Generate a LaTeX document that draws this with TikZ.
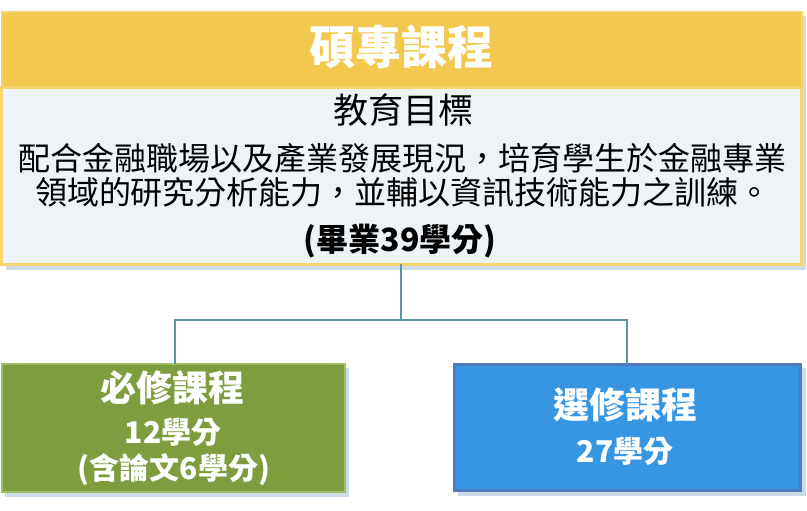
\documentclass[tikz,border=0pt]{standalone}
\usepackage{fontspec}
\newfontfamily\cjk{Noto Sans CJK TC}
\usetikzlibrary{calc}
\definecolor{barfill}{RGB}{242,200,78}
\definecolor{barline}{RGB}{246,212,110}
\definecolor{objfill}{RGB}{238,243,248}
\definecolor{greenfill}{RGB}{127,157,62}
\definecolor{greenline}{RGB}{160,190,100}
\definecolor{bluefill}{RGB}{55,150,226}
\definecolor{blueline}{RGB}{80,122,192}
\definecolor{connline}{RGB}{96,143,168}
\definecolor{shadowc}{RGB}{205,218,232}
\begin{document}
\begin{tikzpicture}[x=1pt,y=-1pt,
  box/.style={rectangle,inner sep=0pt,outer sep=0pt},
  wtext/.style={text=white,font=\cjk\bfseries,inner sep=0pt},
  btext/.style={text=black,font=\cjk,inner sep=0pt},
  conn/.style={draw=connline,line width=2pt}]
\useasboundingbox (0,0) rectangle (807,511);
% shadows
\fill[shadowc] (6,92) rectangle (806,270);
\fill[shadowc] (6,16) rectangle (806,92);
\fill[shadowc] (5,368) rectangle (349,497);
\fill[shadowc] (458,368) rectangle (806,496);
% boxes
\node[box,fill=barfill,draw=barline,line width=2pt,minimum width=800pt,minimum height=76pt] (bar) at (401.5,50) {};
\node[box,fill=objfill,draw=barline,line width=3pt,minimum width=800pt,minimum height=176pt] (obj) at (401.5,176) {};
\node[box,fill=greenfill,draw=greenline,line width=2pt,minimum width=343pt,minimum height=128pt] (req) at (173,428) {};
\node[box,fill=bluefill,draw=blueline,line width=3pt,minimum width=346pt,minimum height=126pt] (ele) at (627,427) {};
% texts
\node[wtext,font=\cjk\bfseries\fontsize{46}{50}\selectfont] (t0) at (401.5,47) {碩專課程};
\node[btext,font=\cjk\fontsize{35}{38}\selectfont] (t1) at (403,110) {教育目標};
\node[btext,font=\cjk\fontsize{32}{36}\selectfont] (t2) at (403,158) {配合金融職場以及產業發展現況，培育學生於金融專業};
\node[btext,font=\cjk\fontsize{32}{36}\selectfont] (t3) at (403,192) {領域的研究分析能力，並輔以資訊技術能力之訓練。};
\node[btext,font=\cjk\bfseries\fontsize{32}{36}\selectfont] (t4) at (400,241) {(畢業39學分)};
\node[wtext,font=\cjk\bfseries\fontsize{36}{40}\selectfont] (g1) at (172,388) {必修課程};
\node[wtext,font=\cjk\bfseries\fontsize{30}{34}\selectfont] (g2) at (173,432) {12學分};
\node[wtext,font=\cjk\bfseries\fontsize{30}{34}\selectfont] (g3) at (174,470) {(含論文6學分)};
\node[wtext,font=\cjk\bfseries\fontsize{36}{40}\selectfont] (b1) at (625,405) {選修課程};
\node[wtext,font=\cjk\bfseries\fontsize{30}{34}\selectfont] (b2) at (625,451) {27學分};
% connectors
\coordinate (j) at (401,320);
\coordinate (gtop) at (175,364);
\draw[conn] (obj.south -| j) -- (j);
\draw[conn] (j) -| (gtop);
\draw[conn] (j) -| (ele.north);
\end{tikzpicture}
\end{document}
